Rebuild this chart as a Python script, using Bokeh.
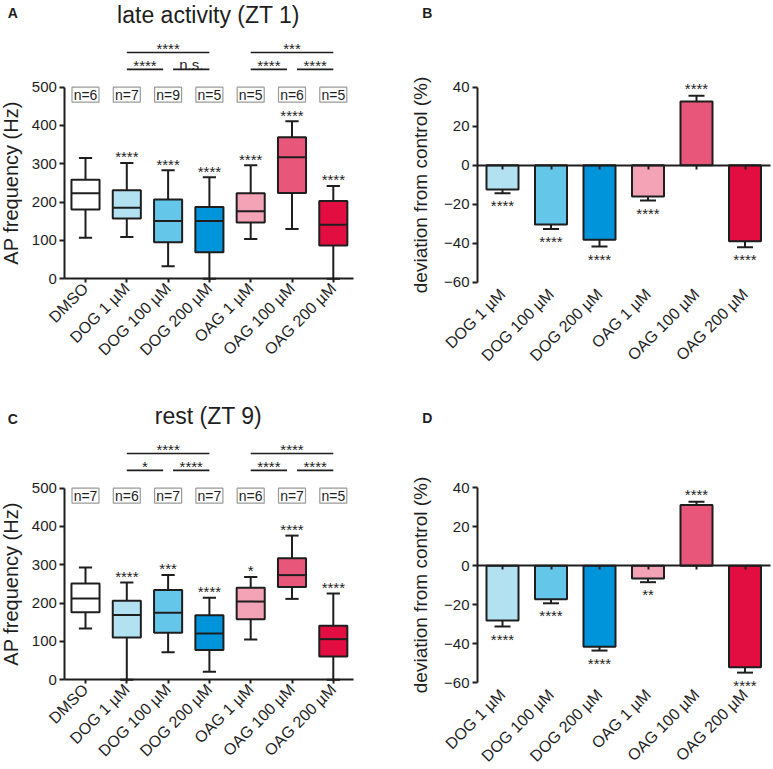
import math
from bokeh.plotting import figure
from bokeh.models import Range1d, FixedTicker, LinearAxis
from bokeh.layouts import column, row
from bokeh.embed import file_html
from bokeh.resources import INLINE
from bokeh.core.properties import value

FONT = "Liberation Sans"
INK = "#1e1e1e"

# ---------------- data ----------------
groups = ["DMSO", "DOG 1 µM", "DOG 100 µM", "DOG 200 µM",
          "OAG 1 µM", "OAG 100 µM", "OAG 200 µM"]
box_colors = ["#ffffff", "#b2e2f2", "#64c7e9", "#0094db",
              "#f4a2b6", "#e8577a", "#e20e41"]

# Panel A: late activity (ZT 1)  -- whisker low, Q1, median, Q3, whisker high
a_low = [107, 109, 33, 0, 104, 130, 0]
a_q1 = [181, 157, 95, 69, 147, 224, 87]
a_med = [223, 185, 151, 151, 176, 317, 141]
a_q3 = [258, 231, 207, 187, 223, 369, 203]
a_high = [315, 302, 283, 265, 296, 411, 242]
a_n = ["n=6", "n=7", "n=9", "n=5", "n=5", "n=6", "n=5"]
a_stars = ["", "****", "****", "****", "****", "****", "****"]
a_brackets = [(1, 3, "****", "top"), (1, 2, "****", "low"), (2, 3, "n.s.", "low"),
              (4, 6, "***", "top"), (4, 5, "****", "low"), (5, 6, "****", "low")]

# Panel C: rest (ZT 9)
c_low = [134, 0, 72, 21, 105, 211, 0]
c_q1 = [176, 110, 123, 78, 158, 242, 61]
c_med = [212, 169, 175, 121, 204, 273, 106]
c_q3 = [251, 206, 234, 168, 240, 317, 141]
c_high = [293, 254, 273, 214, 268, 376, 225]
c_n = ["n=7", "n=6", "n=7", "n=7", "n=6", "n=7", "n=5"]
c_stars = ["", "****", "***", "****", "*", "****", "****"]
c_brackets = [(1, 3, "****", "top"), (1, 2, "*", "low"), (2, 3, "****", "low"),
              (4, 6, "****", "top"), (4, 5, "****", "low"), (5, 6, "****", "low")]

# Panels B / D: deviation from control (%), mean and one-sided error
bar_groups = groups[1:]
bar_colors = box_colors[1:]
b_mean = [-12.4, -30.3, -38.2, -16.0, 32.6, -38.9]
b_err = [1.9, 2.4, 3.4, 2.1, 2.9, 3.1]
b_stars = ["****", "****", "****", "****", "****", "****"]
d_mean = [-28.0, -17.1, -41.4, -6.5, 31.1, -52.0]
d_err = [3.1, 2.1, 2.0, 1.9, 1.7, 2.7]
d_stars = ["****", "****", "****", "**", "****", "****"]

N_LEVEL_Y = 480
BRACKET_Y = {"top": 590, "low": 546}


class Panel:
    """Figure whose frame fills it; data<->pixel mapping set by anchors."""

    def __init__(self, w, h, x_anchor_px, x_scale, y_anchor_px, y_scale):
        self.xa, self.xs = x_anchor_px, x_scale
        self.ya, self.ys = y_anchor_px, y_scale
        xr = (-x_anchor_px / x_scale, (w - x_anchor_px) / x_scale)
        yr = ((y_anchor_px - h) / y_scale, y_anchor_px / y_scale)
        p = figure(width=w, height=h, x_range=Range1d(*xr), y_range=Range1d(*yr),
                   output_backend="svg", toolbar_location=None, tools="",
                   x_axis_location=None, y_axis_location=None,
                   min_border=0, min_border_left=0, min_border_right=0,
                   min_border_top=0, min_border_bottom=0)
        p.xgrid.visible = False
        p.ygrid.visible = False
        p.outline_line_color = None
        p.background_fill_color = "white"
        p.border_fill_color = "white"
        self.p = p

    def dx(self, px):
        return (px - self.xa) / self.xs

    def dy(self, py):
        return (self.ya - py) / self.ys

    def text(self, px, py, txt, size, bold=False, align="left"):
        self.p.text(x=[self.dx(px)], y=[self.dy(py)], text=[txt],
                    text_font=value(FONT), text_font_size=size,
                    text_font_style="bold" if bold else "normal",
                    text_color=INK, text_align=align, text_baseline="alphabetic")


def style_axis(ax, label_size):
    ax.axis_line_color = INK
    ax.axis_line_width = 2
    ax.major_tick_line_color = INK
    ax.major_tick_line_width = 2
    ax.major_tick_out = 5
    ax.major_tick_in = 0
    ax.minor_tick_line_color = None
    ax.major_label_text_font = FONT
    ax.major_label_text_font_size = "15px"
    ax.major_label_text_color = INK
    ax.axis_label_text_font = FONT
    ax.axis_label_text_font_style = "normal"
    ax.axis_label_text_font_size = label_size
    ax.axis_label_text_color = INK


def box_panel(title, letter, low, q1, med, q3, high, ns, stars, brackets,
              h, y0_px, title_base, letter_base):
    P = Panel(386, h, 85, 41.3, y0_px, 0.3835)
    p = P.p
    n = len(groups)
    xs = list(range(n))

    p.segment(xs, q3, xs, high, line_color=INK, line_width=2)
    p.segment(xs, low, xs, q1, line_color=INK, line_width=2)
    p.segment([x - 0.16 for x in xs], high, [x + 0.16 for x in xs], high,
              line_color=INK, line_width=2)
    p.segment([x - 0.16 for x in xs], low, [x + 0.16 for x in xs], low,
              line_color=INK, line_width=2)
    p.vbar(x=xs, width=0.68, bottom=q1, top=q3, fill_color=box_colors,
           line_color=INK, line_width=2)
    p.segment([x - 0.34 for x in xs], med, [x + 0.34 for x in xs], med,
              line_color=INK, line_width=2)

    sx = [x for x, s in zip(xs, stars) if s]
    sy = [hh + 16 for hh, s in zip(high, stars) if s]
    st = [s for s in stars if s]
    p.text(x=sx, y=sy, text=st, text_font=value(FONT), text_font_size="15px",
           text_color=INK, text_align="center", text_baseline="alphabetic")

    p.rect(x=xs, y=[N_LEVEL_Y] * n, width=27, height=15, width_units="screen",
           height_units="screen", fill_color="white", line_color="#9a9a9a",
           line_width=1.2)
    p.text(x=xs, y=[N_LEVEL_Y] * n, text=ns, text_font=value(FONT),
           text_font_size="14px", text_color=INK, text_align="center",
           text_baseline="middle")

    tops = [(i, j) for i, j, _, lv in brackets if lv == "top"]
    ends = set(k for ij in tops for k in ij)
    bx0, bx1, by, tx, ty, tt = [], [], [], [], [], []
    for i, j, lab, lv in brackets:
        x0 = i if (lv == "top" or i in ends) else i + 0.12
        x1 = j if (lv == "top" or j in ends) else j - 0.12
        yv = BRACKET_Y[lv]
        bx0.append(x0); bx1.append(x1); by.append(yv)
        tx.append((x0 + x1) / 2)
        ty.append(yv + 11 if set(lab) == {"*"} else yv + 13)
        tt.append(lab)
    p.segment(bx0, by, bx1, by, line_color=INK, line_width=1.6)
    p.text(x=tx, y=ty, text=tt, text_font=value(FONT), text_font_size="15px",
           text_color=INK, text_align="center", text_baseline="alphabetic")

    yax = LinearAxis(fixed_location=-0.5, bounds=(0, 500),
                     ticker=FixedTicker(ticks=[0, 100, 200, 300, 400, 500]),
                     axis_label="AP frequency (Hz)")
    style_axis(yax, "20px")
    yax.major_label_standoff = 3
    yax.axis_label_standoff = 6
    p.add_layout(yax, "left")

    xax = LinearAxis(fixed_location=0, bounds=(-0.5, n - 0.5),
                     ticker=FixedTicker(ticks=xs))
    style_axis(xax, "16px")
    xax.major_label_overrides = {x: g for x, g in zip(xs, groups)}
    xax.major_label_orientation = math.pi / 4
    xax.major_label_text_font_size = "16px"
    xax.major_tick_out = 4
    xax.major_label_standoff = 3
    p.add_layout(xax, "below")

    P.text(7.3, letter_base, letter, "14px", bold=True)
    P.text(208, title_base, title, "23px", align="center")
    return p


def bar_panel(letter, means, errs, stars, h, y0_px, letter_base):
    P = Panel(386, h, 116, 48.5, y0_px, 1.953)
    p = P.p
    xs = list(range(len(means)))
    tips = [m + e if m > 0 else m - e for m, e in zip(means, errs)]
    p.segment(xs, means, xs, tips, line_color=INK, line_width=2)
    p.segment([x - 0.165 for x in xs], tips, [x + 0.165 for x in xs], tips,
              line_color=INK, line_width=2)
    p.vbar(x=xs, width=0.66, bottom=0, top=means, fill_color=bar_colors,
           line_color=INK, line_width=2)

    sy = [t + 3.6 if m > 0 else t - 6.5 for m, t in zip(means, tips)]
    p.text(x=xs, y=sy, text=stars, text_font=value(FONT), text_font_size="15px",
           text_color=INK, text_align="center", text_baseline="alphabetic")

    x_left = -0.515
    yax = LinearAxis(fixed_location=x_left, bounds=(-60, 40),
                     ticker=FixedTicker(ticks=[-60, -40, -20, 0, 20, 40]),
                     axis_label="deviation from control (%)")
    style_axis(yax, "19px")
    yax.major_label_standoff = 3
    yax.axis_label_standoff = 10
    p.add_layout(yax, "left")

    zero = LinearAxis(fixed_location=0, bounds=(x_left, P.dx(384)),
                      ticker=FixedTicker(ticks=[], minor_ticks=xs))
    style_axis(zero, "16px")
    zero.minor_tick_line_color = INK
    zero.minor_tick_line_width = 2
    zero.minor_tick_out = 4
    zero.minor_tick_in = 0
    p.add_layout(zero, "below")

    lab = LinearAxis(fixed_location=-60, ticker=FixedTicker(ticks=xs))
    style_axis(lab, "16px")
    lab.axis_line_color = None
    lab.major_tick_line_color = None
    lab.major_tick_out = 0
    lab.major_label_overrides = {x: g for x, g in zip(xs, bar_groups)}
    lab.major_label_orientation = math.pi / 4
    lab.major_label_text_font_size = "16px"
    lab.major_label_standoff = 9
    p.add_layout(lab, "below")

    P.text(35.7, letter_base, letter, "14px", bold=True)
    return p


pA = box_panel("late activity (ZT 1)", "A", a_low, a_q1, a_med, a_q3, a_high, a_n,
               a_stars, a_brackets, 384, 278.3, 14, 12)
pB = bar_panel("B", b_mean, b_err, b_stars, 384, 164.7, 12)
pC = box_panel("rest (ZT 9)", "C", c_low, c_q1, c_med, c_q3, c_high, c_n,
               c_stars, c_brackets, 384, 295.3, 31.7, 34)
pD = bar_panel("D", d_mean, d_err, d_stars, 384, 181.3, 33)

layout = column(row(pA, pB), row(pC, pD))
open("out.html", "w").write(file_html(layout, INLINE))
